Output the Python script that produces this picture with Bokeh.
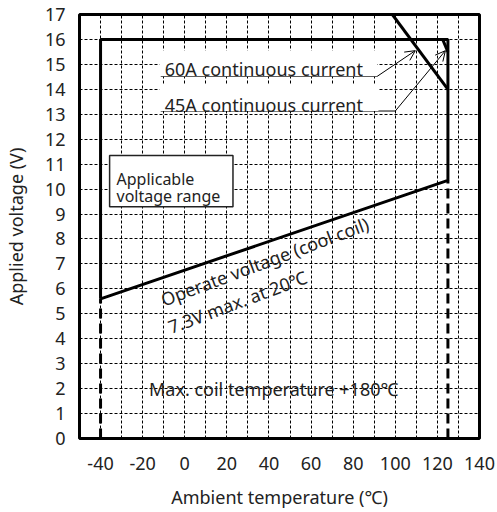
from bokeh.plotting import figure
from bokeh.models import FixedTicker, Label, Arrow, OpenHead, BoxAnnotation, Range1d
from bokeh.embed import file_html
from bokeh.resources import INLINE

# ---- data ----
x_ticks = [-40, -20, 0, 20, 40, 60, 80, 100, 120, 140]
x_tick_labels = ["-40", "-20", "0", "20", "40", "60", "80", "100", "120", "140"]
x_minor = [-30, -10, 10, 30, 50, 70, 90, 110, 130]
y_ticks = list(range(0, 18))

# applicable voltage range boundary (temperature, voltage)
range_temp = [-40, -40, 125, 125, -40]
range_volt = [5.6, 16.0, 16.0, 10.35, 5.6]

# dashed temperature limits
low_limit_temp = [-40, -40]
low_limit_volt = [0, 5.6]
high_limit_temp = [125, 125]
high_limit_volt = [0, 10.35]

# continuous current limits
cur60_temp = [98.6, 125]
cur60_volt = [17.0, 14.0]
cur45_temp = [122.5, 125]
cur45_volt = [16.0, 15.5]

FONT = "Noto Sans"
TXT = "#222222"

p = figure(frame_width=400, frame_height=424,
           x_range=Range1d(-50, 140), y_range=Range1d(0, 17),
           output_backend="svg", toolbar_location=None,
           min_border_left=70, min_border_right=16,
           min_border_top=14, min_border_bottom=62)

p.background_fill_color = "white"
p.border_fill_color = "white"
p.outline_line_color = "black"
p.outline_line_width = 3

p.xaxis.ticker = FixedTicker(ticks=x_ticks, minor_ticks=x_minor)
p.xaxis.major_label_overrides = {t: s for t, s in zip(x_ticks, x_tick_labels)}
p.yaxis.ticker = FixedTicker(ticks=y_ticks)
for ax in (p.xaxis[0], p.yaxis[0]):
    ax.axis_line_color = None
    ax.major_tick_line_color = None
    ax.minor_tick_line_color = None
    ax.major_label_text_font = FONT
    ax.major_label_text_font_size = "18px"
    ax.major_label_text_color = TXT
    ax.axis_label_text_font = FONT
    ax.axis_label_text_font_size = "18px"
    ax.axis_label_text_font_style = "normal"
    ax.axis_label_text_color = TXT
p.yaxis.major_label_standoff = 8
p.xaxis.major_label_standoff = 12

p.xaxis.axis_label = "Ambient temperature (℃)"
p.yaxis.axis_label = "Applied voltage (V)"
p.xaxis.axis_label_standoff = 12
p.yaxis.axis_label_standoff = 14

for g in (p.xgrid[0], p.ygrid[0]):
    g.grid_line_color = "black"
    g.grid_line_dash = "3 2"
    g.grid_line_width = 1
p.xgrid.minor_grid_line_color = "black"
p.xgrid.minor_grid_line_dash = "3 2"
p.xgrid.minor_grid_line_width = 1

# main curves
p.line(range_temp, range_volt, line_color="black", line_width=3)
p.line(low_limit_temp, low_limit_volt, line_color="black", line_width=3, line_dash="10 5")
p.line(high_limit_temp, high_limit_volt, line_color="black", line_width=3, line_dash="10 5")
p.line(cur60_temp, cur60_volt, line_color="black", line_width=3)
p.line(cur45_temp, cur45_volt, line_color="black", line_width=3)

# white backgrounds behind the current labels
p.add_layout(BoxAnnotation(left=-12, right=91.4, bottom=14.52, top=15.56,
                           fill_color="white", fill_alpha=1, line_color=None))
p.add_layout(BoxAnnotation(left=-12, right=92, bottom=13.13, top=14.17,
                           fill_color="white", fill_alpha=1, line_color=None))

# underlines
p.line([-11.4, 91.4], [14.52, 14.52], line_color="black", line_width=1)
p.line([-11.4, 100], [13.13, 13.13], line_color="black", line_width=1)

p.add_layout(Arrow(end=OpenHead(size=10, line_width=1, line_color="black"),
                   x_start=91.4, y_start=14.52, x_end=109.5, y_end=15.55,
                   line_width=1, line_color="black"))
p.add_layout(Arrow(end=OpenHead(size=10, line_width=1, line_color="black"),
                   x_start=100, y_start=13.13, x_end=123.8, y_end=15.55,
                   line_width=1, line_color="black"))

def lab(x, y, text, size="18px", angle=0):
    p.add_layout(Label(x=x, y=y, text=text, text_font=FONT, text_font_size=size,
                       text_color=TXT, text_baseline="alphabetic", text_align="left",
                       angle=angle, angle_units="deg"))

lab(-9.5, 14.8, "60A continuous current")
lab(-9.5, 13.37, "45A continuous current")

# applicable voltage range box
p.add_layout(BoxAnnotation(left=-35.7, right=22.9, bottom=9.29, top=11.35,
                           fill_color="white", fill_alpha=1,
                           line_color="#222222", line_alpha=1, line_width=1.5))
lab(-32.4, 10.4, "Applicable", size="16px")
lab(-32.4, 9.72, "voltage range", size="16px")

lab(-11, 5.55, "Operate voltage (cool coil)", angle=20.5)
lab(-7.6, 4.45, "7.3V max. at 20℃", angle=20.5)

lab(-17, 2.0, "Max. coil temperature +180℃")

open("out.html", "w").write(file_html(p, INLINE))
